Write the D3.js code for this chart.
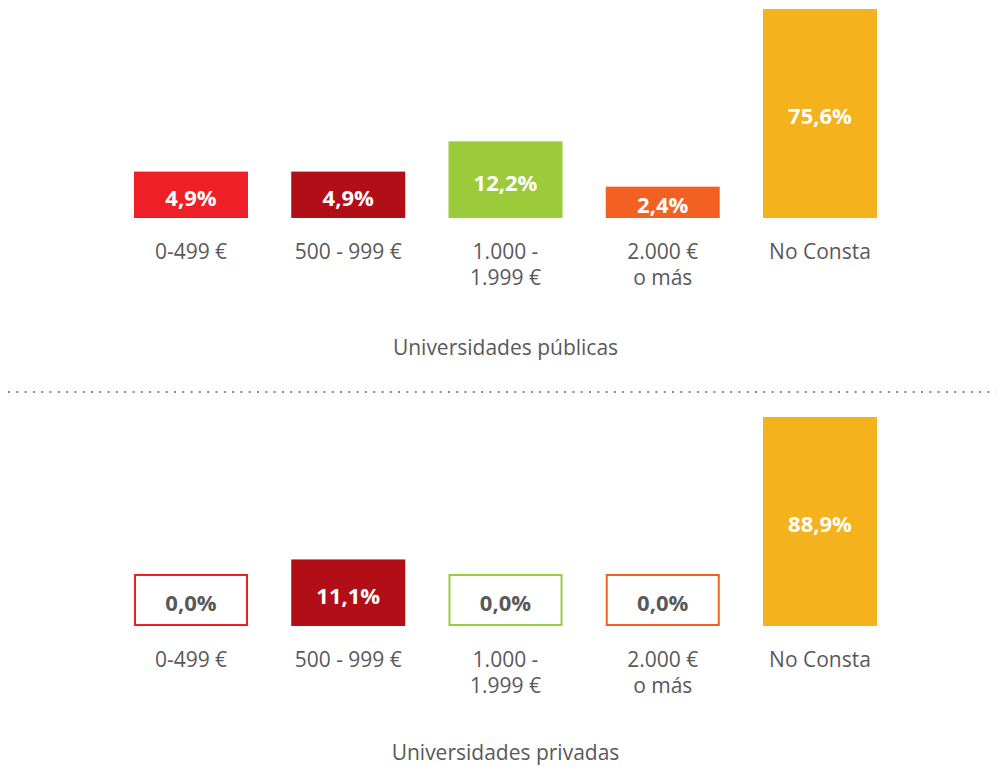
<!DOCTYPE html>
<html>
<head>
<meta charset="utf-8">
<script src="https://cdn.jsdelivr.net/npm/d3@7"></script>
<style>
  body { margin: 0; background: #fff; }
  text { font-family: "Open Sans", "DejaVu Sans", sans-serif; }
</style>
</head>
<body>
<script>
// Data
const categories = [["0-499 €"], ["500 - 999 €"], ["1.000 -", "1.999 €"], ["2.000 €", "o más"], ["No Consta"]];
const colors = ["#ee1f27", "#b20e17", "#9bcb3b", "#f26122", "#f4b31c"];
const publicas = [4.9, 4.9, 12.2, 2.4, 75.6];
const privadas = [0.0, 11.1, 0.0, 0.0, 88.9];
const panelTitles = ["Universidades públicas", "Universidades privadas"];

const W = 999, H = 767;
const textColor = "#595959";

const svg = d3.select("body")
  .append("svg")
    .attr("width", W)
    .attr("height", H);

// shared x scale for the five categories
const x = d3.scaleBand()
  .domain(d3.range(categories.length))
  .range([134, 877])
  .paddingInner(0.275)
  .paddingOuter(0);

const fmt = v => v.toFixed(1).replace(".", ",") + "%";

function drawPanel(values, title, baseline, titleY) {
  const g = svg.append("g").attr("transform", "translate(0," + baseline + ")");

  // bar heights: compressed scale, each panel scaled to its own max
  const h = d3.scalePow()
    .exponent(0.55)
    .domain([0, d3.max(values)])
    .range([0, 209]);
  const emptyH = 51;

  const bars = g.selectAll(".bar")
    .data(values)
    .enter()
    .append("g")
      .attr("class", "bar");

  bars.append("rect")
    .attr("x", (d, i) => d > 0 ? x(i) : x(i) + 1)
    .attr("y", d => d > 0 ? -h(d) : -emptyH)
    .attr("width", d => d > 0 ? x.bandwidth() : x.bandwidth() - 2)
    .attr("height", d => d > 0 ? h(d) : emptyH - 1)
    .attr("fill", (d, i) => d > 0 ? colors[i] : "#fff")
    .attr("stroke", (d, i) => d > 0 ? "none" : colors[i])
    .attr("stroke-width", 2);

  bars.append("text")
    .attr("x", (d, i) => x(i) + x.bandwidth() / 2)
    .attr("y", d => (d > 0 ? -h(d) / 2 : -emptyH / 2) + 3)
    .attr("dy", "0.36em")
    .attr("text-anchor", "middle")
    .attr("font-size", 22)
    .attr("font-weight", "bold")
    .attr("fill", d => d > 0 ? "#fff" : textColor)
    .text(fmt);

  // category labels (one or two lines)
  const labels = g.selectAll(".cat")
    .data(categories)
    .enter()
    .append("text")
      .attr("class", "cat")
      .attr("text-anchor", "middle")
      .attr("font-size", 21)
      .attr("fill", textColor)
      .attr("y", 41);

  labels.selectAll("tspan")
    .data((d, i) => d.map(line => ({line, i})))
    .enter()
    .append("tspan")
      .attr("x", d => x(d.i) + x.bandwidth() / 2)
      .attr("dy", (d, j) => j === 0 ? 0 : 26)
      .text(d => d.line);

  g.append("text")
    .attr("x", (x.range()[0] + x.range()[1]) / 2)
    .attr("y", titleY)
    .attr("text-anchor", "middle")
    .attr("font-size", 21)
    .attr("fill", textColor)
    .text(title);
}

drawPanel(publicas, panelTitles[0], 218, 137);
drawPanel(privadas, panelTitles[1], 626, 134);

// dotted separator
svg.append("line")
  .attr("x1", 8)
  .attr("x2", 996)
  .attr("y1", 392)
  .attr("y2", 392)
  .attr("stroke", "#8a8a8a")
  .attr("stroke-width", 2)
  .attr("stroke-linecap", "butt")
  .attr("stroke-dasharray", "2 6.3");
</script>
</body>
</html>
